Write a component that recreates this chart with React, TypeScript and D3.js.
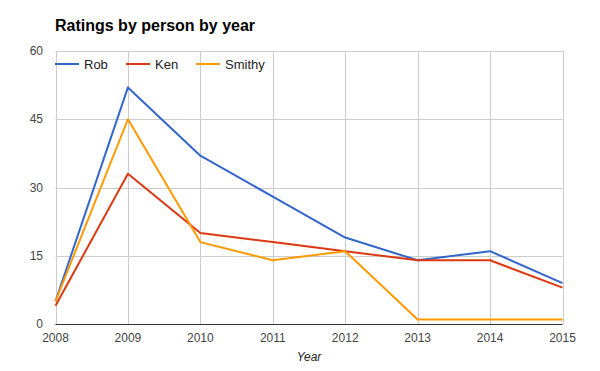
import React, { useRef, useEffect } from 'react';
import * as d3 from 'd3';

const years = [2008, 2009, 2010, 2011, 2012, 2013, 2014, 2015];
const rob = [5, 52, 37, 28, 19, 14, 16, 9];
const ken = [4, 33, 20, 18, 16, 14, 14, 8];
const smithy = [5, 45, 18, 14, 16, 1, 1, 1];
const seriesNames = ['Rob', 'Ken', 'Smithy'];
const seriesColors = ['#3366cc', '#dc3912', '#ff9900'];
const yTicks = [0, 15, 30, 45, 60];

const App = () => {
  const ref = useRef<SVGSVGElement>(null);

  useEffect(() => {
    const svg = d3.select(ref.current);
    svg.selectAll('*').remove();

    const font = 'Arial, "Liberation Sans", sans-serif';
    const x = d3.scaleLinear().domain([2008, 2015]).range([55.5, 562.5]);
    const y = d3.scaleLinear().domain([0, 60]).range([324, 51]);

    svg.append('text')
      .attr('x', 55).attr('y', 31)
      .attr('font-family', font).attr('font-size', 16).attr('font-weight', 'bold')
      .text('Ratings by person by year');

    // grid
    const g = svg.append('g');
    g.selectAll('.hg').data(yTicks.filter(d => d > 0)).enter().append('line')
      .attr('x1', x(2008)).attr('x2', x(2015))
      .attr('y1', d => Math.round(y(d)) + 0.5).attr('y2', d => Math.round(y(d)) + 0.5)
      .attr('stroke', '#cccccc').attr('stroke-width', 1);
    g.selectAll('.vg').data(years).enter().append('line')
      .attr('x1', d => Math.round(x(d)) + 0.5).attr('x2', d => Math.round(x(d)) + 0.5)
      .attr('y1', y(60)).attr('y2', y(0))
      .attr('stroke', '#cccccc').attr('stroke-width', 1);

    // y labels
    svg.selectAll('.yl').data(yTicks).enter().append('text')
      .attr('x', 43).attr('y', d => y(d) + 4)
      .attr('text-anchor', 'end')
      .attr('font-family', font).attr('font-size', 12).attr('fill', '#444')
      .text(d => String(d));

    // x labels
    svg.selectAll('.xl').data(years).enter().append('text')
      .attr('x', d => x(d)).attr('y', 342)
      .attr('text-anchor', 'middle')
      .attr('font-family', font).attr('font-size', 12).attr('fill', '#444')
      .text(d => String(d));

    svg.append('text')
      .attr('x', 309).attr('y', 361)
      .attr('text-anchor', 'middle')
      .attr('font-family', font).attr('font-size', 12).attr('font-style', 'italic').attr('fill', '#222')
      .text('Year');

    // lines
    const line = d3.line<number>()
      .x((_, i) => x(years[i]))
      .y(d => y(d));
    [rob, ken, smithy].forEach((s, i) => {
      svg.append('path')
        .datum(s)
        .attr('d', line)
        .attr('fill', 'none')
        .attr('stroke', seriesColors[i])
        .attr('stroke-width', 2)
        .attr('stroke-linejoin', 'round');
    });

    // baseline
    svg.append('line')
      .attr('x1', x(2008)).attr('x2', x(2015))
      .attr('y1', y(0) + 0.5).attr('y2', y(0) + 0.5)
      .attr('stroke', '#333333').attr('stroke-width', 1);

    // legend
    const legX = [55, 126, 196];
    seriesNames.forEach((n, i) => {
      svg.append('line')
        .attr('x1', legX[i]).attr('x2', legX[i] + 24)
        .attr('y1', 64).attr('y2', 64)
        .attr('stroke', seriesColors[i]).attr('stroke-width', 2);
      svg.append('text')
        .attr('x', legX[i] + 29).attr('y', 68.5)
        .attr('font-family', font).attr('font-size', 13).attr('fill', '#222')
        .text(n);
    });
  });

  return (
    <svg ref={ref} width={600} height={371}
      style={{ position: 'absolute', left: 0, top: 0, background: '#fff' }} />
  );
};

export default App;
